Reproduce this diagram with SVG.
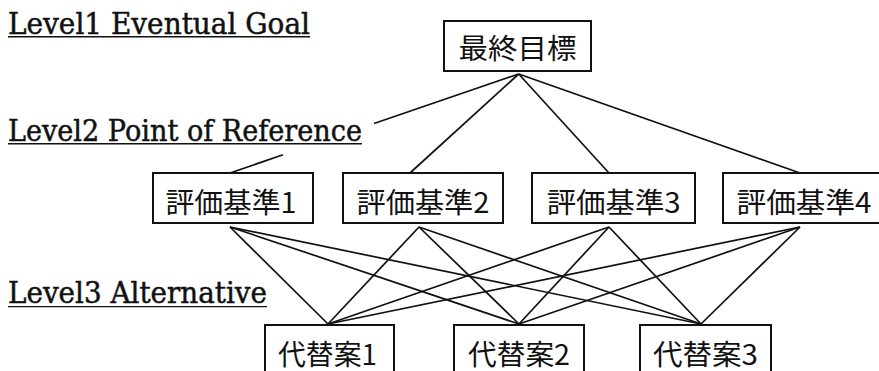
<svg xmlns="http://www.w3.org/2000/svg" width="879" height="371" viewBox="0 0 879 371">
<style>
.box{fill:#fff;stroke:#111;stroke-width:2}
.jp{font-family:"Noto Sans CJK JP","Noto Sans",sans-serif;font-size:28px;fill:#111;text-anchor:middle}
.lv{font-family:"DejaVu Serif","Liberation Serif",serif;font-size:29px;fill:#111;stroke:#111;stroke-width:0.5}
.ul{stroke:#111;stroke-width:1.4}
.c line{stroke:#111;stroke-width:1.7}
</style>
<rect width="879" height="371" fill="#fff"/>
<g id="labels">
<text class="lv" x="8" y="33.5" textLength="302" lengthAdjust="spacingAndGlyphs">Level1 Eventual Goal</text>
<line class="ul" x1="8" y1="36.8" x2="310" y2="36.8"/>
<text class="lv" x="8" y="140.5" textLength="354" lengthAdjust="spacingAndGlyphs">Level2 Point of Reference</text>
<line class="ul" x1="8" y1="143.8" x2="362" y2="143.8"/>
<text class="lv" x="8" y="303.3" textLength="259" lengthAdjust="spacingAndGlyphs">Level3 Alternative</text>
<line class="ul" x1="8" y1="306.6" x2="267" y2="306.6"/>
</g>
<g class="c" id="connectors">
<line x1="518.7" y1="74" x2="374" y2="123.5"/>
<line x1="283" y1="154.8" x2="230" y2="173"/>
<line x1="518.7" y1="74" x2="410" y2="173"/>
<line x1="518.7" y1="74" x2="609" y2="173"/>
<line x1="518.7" y1="74" x2="800" y2="173"/>
<line x1="230" y1="227" x2="328" y2="324"/>
<line x1="230" y1="227" x2="519" y2="324"/>
<line x1="230" y1="227" x2="701" y2="324"/>
<line x1="419" y1="227" x2="328" y2="324"/>
<line x1="419" y1="227" x2="519" y2="324"/>
<line x1="419" y1="227" x2="701" y2="324"/>
<line x1="609" y1="227" x2="328" y2="324"/>
<line x1="609" y1="227" x2="519" y2="324"/>
<line x1="609" y1="227" x2="701" y2="324"/>
<line x1="800" y1="227" x2="328" y2="324"/>
<line x1="800" y1="227" x2="519" y2="324"/>
<line x1="800" y1="227" x2="701" y2="324"/>
</g>
<g id="goal"><rect class="box" x="444" y="21" width="147" height="50"/><text class="jp" x="517.5" y="58.5" textLength="118" lengthAdjust="spacingAndGlyphs">最終目標</text></g>
<g id="crit1"><rect class="box" x="153" y="173" width="160" height="50"/><text class="jp" x="231" y="212.5" textLength="131" lengthAdjust="spacingAndGlyphs">評価基準1</text></g>
<g id="crit2"><rect class="box" x="343" y="173" width="160" height="50"/><text class="jp" x="423" y="212.5" textLength="133" lengthAdjust="spacingAndGlyphs">評価基準2</text></g>
<g id="crit3"><rect class="box" x="532" y="173" width="163" height="50"/><text class="jp" x="613.7" y="212.5" textLength="134" lengthAdjust="spacingAndGlyphs">評価基準3</text></g>
<g id="crit4"><rect class="box" x="723" y="173" width="162" height="50"/><text class="jp" x="804" y="212.5" textLength="135" lengthAdjust="spacingAndGlyphs">評価基準4</text></g>
<g id="alt1"><rect class="box" x="265" y="325" width="129" height="52"/><text class="jp" x="327.5" y="364.5" textLength="99" lengthAdjust="spacingAndGlyphs">代替案1</text></g>
<g id="alt2"><rect class="box" x="454" y="325" width="130" height="52"/><text class="jp" x="519" y="364.5" textLength="102" lengthAdjust="spacingAndGlyphs">代替案2</text></g>
<g id="alt3"><rect class="box" x="640" y="325" width="131" height="52"/><text class="jp" x="705.5" y="364.5" textLength="105" lengthAdjust="spacingAndGlyphs">代替案3</text></g>
</svg>
